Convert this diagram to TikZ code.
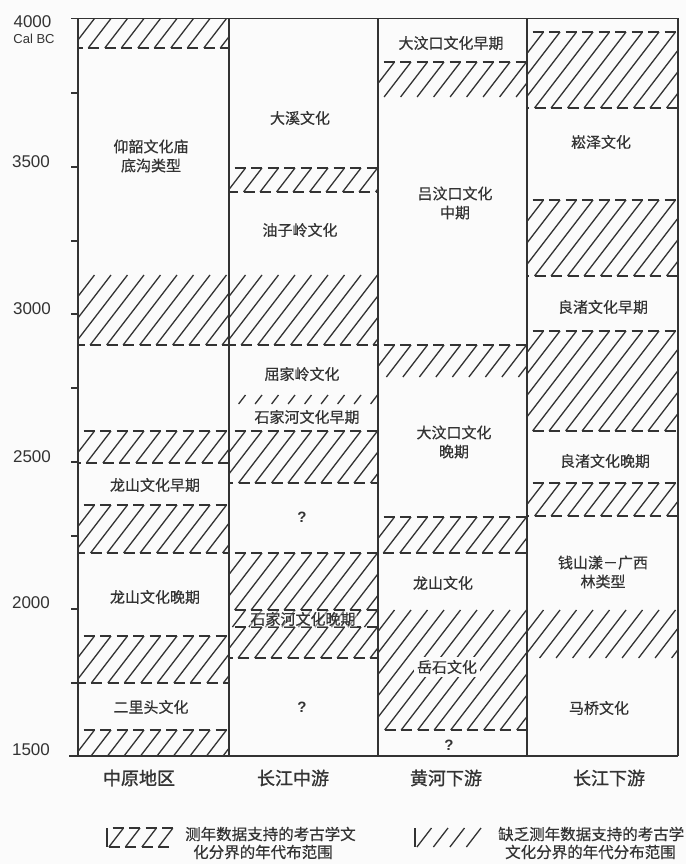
\documentclass[tikz,border=0pt]{standalone}
\usepackage{fontspec}
\setmainfont{Liberation Sans}
\newfontfamily\cjk[FakeBold=0.5]{Noto Sans CJK SC}
\newfontfamily\cjkhead[FakeBold=1.2]{Noto Sans CJK SC}
\definecolor{ink}{HTML}{333333}
\definecolor{paper}{HTML}{FBFBFB}
\tikzset{
  frameline/.style={draw=ink, line width=1.8pt},
  hatchline/.style={draw=ink, line width=1.3pt},
  dashline/.style={draw=ink, line width=1.6pt},
  lab/.style={font=\cjk\fontsize{15}{19}\selectfont, text=ink, inner sep=0pt, align=center},
  qmark/.style={font=\bfseries\fontsize{15}{18}\selectfont, text=ink, inner sep=0pt},
  head/.style={font=\cjkhead\fontsize{18}{22}\selectfont, text=ink, inner sep=0pt},
  num/.style={font=\fontsize{17}{20}\selectfont, text=ink, inner sep=0pt},
  legtext/.style={font=\cjk\fontsize{15.5}{18}\selectfont, text=ink, inner sep=0pt, anchor=west},
}
\newcommand\hatchsp{16.5}
\newcommand\hatchslope{1.3}
\newcommand\dashlen{11}
% #1 x0, #2 x1, #3 ytop, #4 ybot, #5 dashed top (1/0), #6 dashed bottom (1/0)
\newcommand\hatchband[6]{%
  \begin{scope}
    \clip (#1,#3-3) rectangle (#2,#4+3);
    \pgfmathsetmacro\hbdx{(#4-#3)/\hatchslope}
    \foreach \k in {0,...,24}{%
      \pgfmathsetmacro\hbxt{#1+\k*\hatchsp}
      \draw[hatchline] (\hbxt,#3) -- (\hbxt-\hbdx,#4);
      \ifnum#5=1 \draw[dashline] (\hbxt-\dashlen,#3) -- (\hbxt,#3);\fi
      \ifnum#6=1 \draw[dashline] (\hbxt-\hbdx,#4) -- (\hbxt-\hbdx+\dashlen,#4);\fi
    }
  \end{scope}}

\begin{document}
\begin{tikzpicture}[x=1pt,y=-1pt]
\useasboundingbox (0,0) rectangle (686,864);
\fill[paper] (0,0) rectangle (686,864);

% ---------- hatched bands ----------
% column 1: 中原地区
\hatchband{78}{229}{18.5}{48}{0}{1}
\hatchband{78}{229}{275}{345}{0}{1}
\hatchband{78}{229}{431}{463}{1}{1}
\hatchband{78}{229}{505}{553}{1}{1}
\hatchband{78}{229}{636}{683}{1}{1}
\hatchband{78}{229}{730}{756}{1}{0}
% column 2: 长江中游
\hatchband{229}{378}{168}{192}{1}{1}
\hatchband{229}{378}{275}{345}{0}{1}
\hatchband{229}{378}{395}{404}{0}{0}
\hatchband{229}{378}{431}{483}{1}{1}
\hatchband{229}{378}{553}{610}{1}{1}
\hatchband{229}{378}{610}{627}{0}{0}
\hatchband{229}{378}{627}{658}{1}{1}
% column 3: 黄河下游
\hatchband{378}{527}{62}{97}{1}{0}
\hatchband{378}{527}{345}{377}{1}{0}
\hatchband{378}{527}{517}{553}{1}{1}
\hatchband{378}{527}{610}{730}{0}{1}
% column 4: 长江下游
\hatchband{527}{678}{32}{108}{1}{1}
\hatchband{527}{678}{200}{276}{1}{1}
\hatchband{527}{678}{331}{431}{1}{1}
\hatchband{527}{678}{483}{516}{1}{1}
\hatchband{527}{678}{610}{658}{0}{0}

% ---------- frame ----------
\coordinate (tl) at (71,18.5);
\coordinate (tr) at (678,18.5);
\coordinate (bl) at (69,756);
\coordinate (br) at (678,756);
\draw[frameline] (tl) -- (tr);
\draw[frameline] (bl) -- (br);
\foreach \cx [count=\i] in {78,229,378,527,678}{
  \coordinate (ct\i) at (\cx,18.5);
  \coordinate (cb\i) at (\cx,756);
  \draw[frameline] (ct\i) -- (cb\i);
}
% ticks
\foreach \ty [count=\i] in {93,167,241,314,388,462,536,609,683}{
  \coordinate (tka\i) at (71,\ty);
  \coordinate (tkb\i) at (78,\ty);
  \draw[frameline] (tka\i) -- (tkb\i);
}

% ---------- axis labels ----------
\node[num] (y4000) at (32.5,22) {4000};
\node[font=\fontsize{13}{15}\selectfont, text=ink, inner sep=0pt] (calbc) at (34,39) {Cal BC};
\node[num] (y3500) at (31,162) {3500};
\node[num] (y3000) at (32,309) {3000};
\node[num] (y2500) at (32,457) {2500};
\node[num] (y2000) at (31,603) {2000};
\node[num] (y1500) at (31,750) {1500};

% ---------- column 1 labels ----------
\node[lab] (yangshao) at (151,156) {仰韶文化庙\\底沟类型};
\node[lab] (lse1) at (155,485) {龙山文化早期};
\node[lab] (lsl1) at (155,597) {龙山文化晚期};
\node[lab] (erlitou) at (151,707) {二里头文化};

% ---------- column 2 labels ----------
\node[lab] (daxi) at (300,118) {大溪文化};
\node[lab] (youziling) at (300,230) {油子岭文化};
\node[lab] (qujialing) at (302,374) {屈家岭文化};
\node[lab] (sjhe) at (307,417) {石家河文化早期};
\node[qmark] (q2a) at (302,517) {?};
\node[lab, fill=paper, fill opacity=0.45, text opacity=1, inner sep=1pt] (sjhl) at (303,619) {石家河文化晚期};
\node[qmark] (q2b) at (302,707) {?};

% ---------- column 3 labels ----------
\node[lab] (dwke) at (451,43) {大汶口文化早期};
\node[lab] (dwkm) at (455,203) {吕汶口文化\\中期};
\node[lab] (dwkl) at (454,442) {大汶口文化\\晚期};
\node[lab] (ls3) at (443,583) {龙山文化};
\node[lab, fill=paper, inner sep=3pt] (yueshi) at (447,667) {岳石文化};
\node[qmark] (q3) at (449,745) {?};

% ---------- column 4 labels ----------
\node[lab] (songze) at (601,142) {崧泽文化};
\node[lab] (lzhe) at (603,307) {良渚文化早期};
\node[lab] (lzhl) at (605,461) {良渚文化晚期};
\node[lab] (qsy) at (603,572) {钱山漾－广西\\林类型};
\node[lab] (maqiao) at (599,708) {马桥文化};

% ---------- column headers ----------
\node[head] (h1) at (139,778) {中原地区};
\node[head] (h2) at (293,778) {长江中游};
\node[head] (h3) at (446,778) {黄河下游};
\node[head] (h4) at (609,778) {长江下游};

% ---------- legend ----------
\hatchband{107}{173}{828}{847}{1}{1}
\coordinate (la1) at (107,828);
\coordinate (la2) at (107,847);
\draw[hatchline] (la1) -- (la2);
\node[legtext] (lta1) at (185,834) {测年数据支持的考古学文};
\node[legtext] (lta2) at (193,852) {化分界的年代布范围};

\hatchband{415}{482}{828}{847}{0}{0}
\coordinate (lb1) at (415,828);
\coordinate (lb2) at (415,847);
\draw[hatchline] (lb1) -- (lb2);
\node[legtext] (ltb1) at (498,834) {缺乏测年数据支持的考古学};
\node[legtext] (ltb2) at (505,852) {文化分界的年代分布范围};
\end{tikzpicture}
\end{document}
